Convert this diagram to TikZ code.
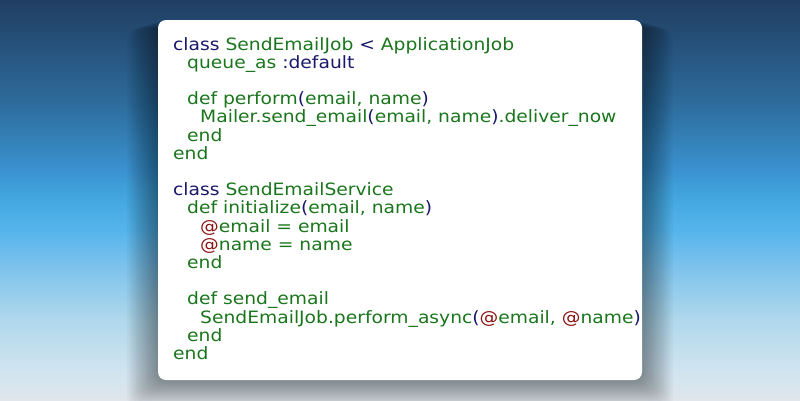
\documentclass[tikz,border=0pt]{standalone}
\usepackage{fontspec}
\newfontfamily\codefont[FakeStretch=1.1]{DejaVu Sans}
\usetikzlibrary{positioning}

\definecolor{kwnavy}{RGB}{24,24,108}
\definecolor{idgreen}{RGB}{26,118,28}
\definecolor{ivred}{RGB}{140,20,20}
\definecolor{skyA}{RGB}{224,230,236}
\definecolor{skyB}{RGB}{208,228,240}
\definecolor{skyC}{RGB}{176,216,236}
\definecolor{skyD}{RGB}{128,196,236}
\definecolor{skyE}{RGB}{85,180,236}
\definecolor{skyF}{RGB}{68,168,224}
\definecolor{skyG}{RGB}{58,146,207}
\definecolor{skyH}{RGB}{45,106,154}
\definecolor{skyI}{RGB}{32,62,98}

\pgfdeclareverticalshading{skyfade}{100bp}{%
  color(0bp)=(skyA); color(25bp)=(skyA); color(28.75bp)=(skyB);
  color(35bp)=(skyC); color(41.25bp)=(skyD); color(46.25bp)=(skyE);
  color(50bp)=(skyF); color(53.75bp)=(skyG); color(62.5bp)=(skyH);
  color(75bp)=(skyI); color(100bp)=(skyI)}

\newcommand\kw[1]{\textcolor{kwnavy}{#1}}
\newcommand\iv{\textcolor{ivred}{@}}

\begin{document}
\begin{tikzpicture}[x=1pt,y=-1pt,
    codeline/.style={anchor=base west, inner sep=0pt, text=idgreen,
      font=\codefont\fontsize{17}{18}\selectfont}]
  \useasboundingbox (0,0) rectangle (800,400);
  \shade[shading=skyfade] (0,0) rectangle (800,400);
  % soft shadow under the card
  \foreach \i in {1,...,14}
    \fill[black, opacity=0.03, rounded corners=10pt]
      (158-2.2*\i,20+0.6*\i) rectangle (642+2.2*\i,380+2*\i);
  \fill[white, rounded corners=8pt] (158,20) rectangle (642,380);

  % SendEmailJob
  \node[codeline] (jobclass) at (173,50) {\kw{class} SendEmailJob \kw{<} ApplicationJob};
  \node[codeline] (jobqueue) at (187,68.2) {queue\_as \kw{:default}};
  \node[codeline] (jobdef) at (187,104.6) {def perform\kw{(}email, name\kw{)}};
  \node[codeline] (jobbody) at (200,122.8) {Mailer.send\_email\kw{(}email, name\kw{)}.deliver\_now};
  \node[codeline] (jobdefend) at (187,141) {end};
  \node[codeline] (jobend) at (173,159.2) {end};

  % SendEmailService
  \node[codeline] (svcclass) at (173,195.6) {\kw{class} SendEmailService};
  \node[codeline] (svcinit) at (187,213.8) {def initialize\kw{(}email, name\kw{)}};
  \node[codeline] (svcemail) at (200,232) {\iv email = email};
  \node[codeline] (svcname) at (200,250.2) {\iv name = name};
  \node[codeline] (svcinitend) at (187,268.4) {end};
  \node[codeline] (svcsend) at (187,304.8) {def send\_email};
  \node[codeline] (svcbody) at (200,323) {SendEmailJob.perform\_async\kw{(}\iv email, \iv name\kw{)}};
  \node[codeline] (svcsendend) at (187,341.2) {end};
  \node[codeline] (svcend) at (173,359.4) {end};
\end{tikzpicture}
\end{document}
